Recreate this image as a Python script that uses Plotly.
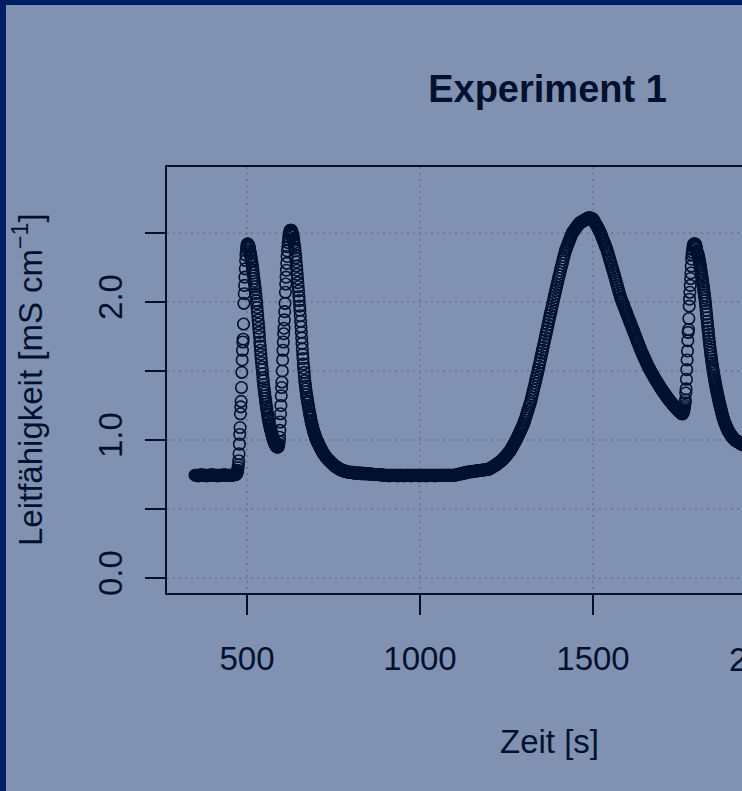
import numpy as np
import plotly.graph_objects as go

# ---------------- data ----------------
# conductivity readings [mS/cm]; each block: start time [s], sampling step [s], readings
basis1_start, basis1_step = 350, 3
basis1 = [0.745, 0.745, 0.745, 0.74, 0.745, 0.745, 0.75, 0.745, 0.745, 0.745,
          0.745, 0.74, 0.745, 0.745, 0.745, 0.745, 0.75, 0.745, 0.745, 0.745,
          0.745, 0.745, 0.74, 0.745, 0.745, 0.745, 0.745, 0.745, 0.75, 0.745,
          0.745, 0.745, 0.745, 0.745, 0.745, 0.745, 0.745, 0.745, 0.75, 0.75]

peak1_rise_start, peak1_rise_step = 468, 1
peak1_rise = [0.75, 0.75, 0.76, 0.76, 0.77, 0.78, 0.80, 0.82, 0.85, 0.90,
              0.97, 1.04, 1.09, 1.19, 1.24, 1.28, 1.38, 1.49, 1.58, 1.65,
              1.71, 1.73, 1.84, 1.99, 2.06, 2.12, 2.18, 2.24, 2.30, 2.34,
              2.37, 2.39, 2.41, 2.42, 2.42, 2.42, 2.41, 2.41, 2.40]

peak1_fall_start, peak1_fall_step = 507, 1
peak1_fall = [2.39, 2.37, 2.36, 2.35, 2.33, 2.32, 2.30, 2.29, 2.27, 2.25,
              2.23, 2.21, 2.19, 2.17, 2.15, 2.13, 2.11, 2.09, 2.06, 2.04,
              2.01, 1.99, 1.96, 1.93, 1.90, 1.87, 1.84, 1.81, 1.78, 1.75,
              1.71, 1.68, 1.65, 1.62, 1.59, 1.56, 1.53, 1.51, 1.48, 1.45,
              1.43, 1.40, 1.38, 1.36, 1.34, 1.32, 1.30, 1.28, 1.26, 1.24,
              1.23, 1.21, 1.19, 1.18, 1.16, 1.15, 1.14, 1.12, 1.11, 1.10,
              1.09, 1.08, 1.07, 1.06, 1.05, 1.04, 1.03, 1.02, 1.01, 1.00,
              0.995, 0.99, 0.98, 0.98, 0.97, 0.97, 0.96, 0.96, 0.955, 0.95,
              0.95, 0.95]

peak2_rise_start, peak2_rise_step = 589, 1
peak2_rise = [0.95, 0.95, 0.96, 0.97, 0.99, 1.02, 1.07, 1.13, 1.19, 1.25,
              1.32, 1.38, 1.42, 1.50, 1.58, 1.65, 1.71, 1.77, 1.81, 1.87,
              1.93, 1.99, 2.07, 2.13, 2.18, 2.23, 2.28, 2.33, 2.37, 2.40,
              2.43, 2.45, 2.47, 2.49, 2.50, 2.51, 2.52, 2.52, 2.52, 2.52,
              2.51, 2.50]

peak2_fall_start, peak2_fall_step = 631, 1
peak2_fall = [2.50, 2.49, 2.48, 2.46, 2.45, 2.43, 2.41, 2.39, 2.37, 2.34,
              2.32, 2.29, 2.26, 2.23, 2.20, 2.17, 2.14, 2.11, 2.08, 2.04,
              2.01, 1.97, 1.94, 1.90, 1.86, 1.82, 1.78, 1.74, 1.70, 1.66,
              1.62, 1.59, 1.55, 1.52, 1.49, 1.46, 1.43, 1.41, 1.39, 1.37,
              1.35, 1.33, 1.31, 1.30, 1.28, 1.27, 1.25, 1.24, 1.22, 1.21,
              1.19, 1.18, 1.17, 1.16, 1.14, 1.13, 1.12, 1.11, 1.10, 1.09,
              1.08, 1.07, 1.06, 1.05, 1.045, 1.04, 1.03, 1.02, 1.015, 1.01,
              1.00, 0.995, 0.99, 0.985, 0.98, 0.975, 0.97, 0.965, 0.96, 0.955,
              0.95, 0.945, 0.94, 0.935, 0.93, 0.925, 0.92, 0.915, 0.91, 0.905]

tail_start, tail_step = 722, 2
tail = [0.90, 0.89, 0.885, 0.88, 0.87, 0.865, 0.86, 0.855, 0.85, 0.845,
        0.84, 0.835, 0.83, 0.825, 0.82, 0.815, 0.81, 0.81, 0.805, 0.80,
        0.80, 0.795, 0.79, 0.79, 0.785, 0.785, 0.78, 0.78, 0.78, 0.775,
        0.775, 0.775, 0.77, 0.77, 0.77, 0.77, 0.765, 0.765, 0.765, 0.765]

basis2_start, basis2_step = 803, 3
basis2 = [0.765, 0.765, 0.76, 0.76, 0.76, 0.76, 0.76, 0.76, 0.76, 0.755,
          0.76, 0.755, 0.755, 0.755, 0.755, 0.755,
          0.755, 0.755, 0.75, 0.755, 0.75, 0.75, 0.75, 0.75, 0.75, 0.75,
          0.75, 0.75, 0.745, 0.75, 0.745, 0.745, 0.745,
          0.745, 0.745, 0.745, 0.74, 0.745, 0.745, 0.745, 0.745, 0.745, 0.745,
          0.745, 0.74, 0.745, 0.745, 0.745, 0.745, 0.745, 0.74, 0.745, 0.745,
          0.745, 0.745, 0.745, 0.745, 0.74, 0.745, 0.745, 0.745, 0.745, 0.745,
          0.745, 0.745, 0.74, 0.745, 0.745, 0.745, 0.745, 0.745, 0.745, 0.74,
          0.745, 0.745, 0.745, 0.745, 0.745, 0.745, 0.745, 0.74, 0.745, 0.745,
          0.745, 0.745, 0.745, 0.745, 0.745, 0.745, 0.745, 0.745, 0.745, 0.745,
          0.745, 0.745, 0.745, 0.745, 0.745, 0.745, 0.745,
          0.745, 0.75, 0.75, 0.75, 0.755, 0.755, 0.755, 0.76, 0.76, 0.76,
          0.765, 0.765, 0.765, 0.77, 0.77, 0.77,
          0.77, 0.772, 0.774, 0.775, 0.776, 0.777, 0.778, 0.779, 0.78, 0.781,
          0.782, 0.783, 0.784, 0.785, 0.786, 0.788, 0.789]

peak3_start, peak3_step = 1200, 2
peak3 = [0.790, 0.793, 0.796, 0.799, 0.802, 0.805, 0.808, 0.811, 0.814, 0.817,
         0.820, 0.824, 0.828, 0.832, 0.836, 0.840, 0.844, 0.848, 0.852, 0.856,
         0.860, 0.866, 0.872, 0.878, 0.884, 0.890, 0.896, 0.902, 0.908, 0.914,
         0.920, 0.929, 0.938, 0.947, 0.956, 0.965, 0.974, 0.983, 0.992, 1.001,
         1.010, 1.021, 1.032, 1.043, 1.054, 1.065, 1.076, 1.087, 1.098, 1.109,
         1.120, 1.136, 1.152, 1.168, 1.184, 1.200, 1.216, 1.232, 1.248, 1.264,
         1.280, 1.301, 1.322, 1.343, 1.364, 1.385, 1.406, 1.427, 1.448, 1.469,
         1.490, 1.513, 1.536, 1.559, 1.582, 1.605, 1.628, 1.651, 1.674, 1.697,
         1.720, 1.743, 1.766, 1.789, 1.812, 1.835, 1.858, 1.881, 1.904, 1.927,
         1.950, 1.972, 1.994, 2.016, 2.038, 2.060, 2.082, 2.104, 2.126, 2.148,
         2.170, 2.190, 2.210, 2.230, 2.250, 2.270, 2.290, 2.310, 2.330, 2.350,
         2.370, 2.383, 2.396, 2.409, 2.422, 2.435, 2.448, 2.461, 2.474, 2.487,
         2.500, 2.507, 2.514, 2.521, 2.528, 2.535, 2.542, 2.549, 2.556, 2.563,
         2.570, 2.573, 2.576, 2.579, 2.582, 2.585, 2.588, 2.591, 2.594, 2.597,
         2.600, 2.603, 2.606, 2.608, 2.610, 2.610, 2.609, 2.607, 2.605, 2.602,
         2.600, 2.592, 2.583, 2.574, 2.565, 2.556, 2.547, 2.538, 2.529, 2.519,
         2.510, 2.497, 2.484, 2.471, 2.458, 2.445, 2.432, 2.419, 2.406, 2.393,
         2.380, 2.363, 2.346, 2.329, 2.312, 2.295, 2.278, 2.261, 2.244, 2.227,
         2.210, 2.192, 2.174, 2.156, 2.138, 2.120, 2.102, 2.084, 2.066, 2.048,
         2.030, 2.017, 2.004, 1.991, 1.978, 1.965, 1.952, 1.939, 1.926, 1.913,
         1.900, 1.887, 1.874, 1.861, 1.848, 1.835, 1.822, 1.809, 1.796, 1.783,
         1.770, 1.757, 1.744, 1.731, 1.718, 1.705, 1.692, 1.679, 1.666, 1.653,
         1.640, 1.629, 1.618, 1.607, 1.596, 1.585, 1.574, 1.563, 1.552, 1.541,
         1.530, 1.521, 1.512, 1.503, 1.494, 1.485, 1.476, 1.467, 1.458, 1.449,
         1.440, 1.432, 1.424, 1.416, 1.408, 1.400, 1.392, 1.384, 1.376, 1.368,
         1.360, 1.353, 1.346, 1.339, 1.332, 1.325, 1.318, 1.311, 1.304, 1.297,
         1.290, 1.284, 1.278, 1.272, 1.266, 1.260, 1.254, 1.248, 1.242, 1.236,
         1.230, 1.225, 1.220, 1.215, 1.210, 1.205, 1.200, 1.196, 1.192]

peak4_rise_start, peak4_rise_step = 1757, 1
peak4_rise = [1.19, 1.19, 1.19, 1.20, 1.20, 1.21, 1.22, 1.235, 1.25, 1.27,
              1.29, 1.34, 1.37, 1.44, 1.51, 1.58, 1.645, 1.72, 1.78, 1.80,
              1.88, 1.97, 2.02, 2.07, 2.12, 2.17, 2.21, 2.26, 2.31, 2.34,
              2.36, 2.38, 2.40, 2.41, 2.42, 2.42, 2.42, 2.42, 2.42, 2.42,
              2.41, 2.40, 2.39, 2.37]

peak4_fall_start, peak4_fall_step = 1801, 1
peak4_fall = [2.362, 2.354, 2.346, 2.338, 2.33, 2.316, 2.302, 2.288, 2.274, 2.26,
              2.244, 2.228, 2.212, 2.196, 2.18, 2.162, 2.144, 2.126, 2.108, 2.09,
              2.07, 2.05, 2.03, 2.01, 1.99, 1.964, 1.938, 1.912, 1.886, 1.86,
              1.836, 1.812, 1.788, 1.764, 1.74, 1.718, 1.696, 1.674, 1.652, 1.63,
              1.612, 1.594, 1.576, 1.558, 1.54, 1.524, 1.508, 1.492, 1.476, 1.46,
              1.446, 1.432, 1.418, 1.404, 1.39, 1.378, 1.366, 1.354, 1.342, 1.33,
              1.318, 1.306, 1.294, 1.282, 1.27, 1.26, 1.25, 1.24, 1.23, 1.22,
              1.21, 1.20, 1.19, 1.18, 1.17, 1.162, 1.154, 1.146, 1.138, 1.13,
              1.124, 1.118, 1.112, 1.106, 1.10, 1.094, 1.088, 1.082, 1.076, 1.07,
              1.066, 1.062, 1.058, 1.054, 1.05, 1.046, 1.042, 1.038, 1.034, 1.03,
              1.027, 1.024, 1.021, 1.018, 1.015, 1.012, 1.009, 1.006, 1.003, 1.00,
              0.999, 0.997, 0.996, 0.994, 0.993, 0.991, 0.99, 0.988, 0.987, 0.985,
              0.984, 0.982, 0.981, 0.979, 0.978, 0.976, 0.975, 0.973, 0.972, 0.97,
              0.969, 0.968, 0.967, 0.966, 0.965, 0.964, 0.963, 0.962, 0.961, 0.96]

x_tickvals = [500, 1000, 1500, 2000]
x_ticktext = ["500", "1000", "1500", "2000"]
y_tickvals = [0.0, 1.0, 2.0]
y_ticktext = ["0.0", "1.0", "2.0"]
y_minor_tickvals = [0.5, 1.5, 2.5]

title_text = "Experiment 1"
x_title = "Zeit [s]"
y_title = "Leitfähigkeit [mS cm<sup>\u22121</sup>]"

# ---------------- assemble series ----------------
blocks = [
    (basis1_start, basis1_step, basis1),
    (peak1_rise_start, peak1_rise_step, peak1_rise),
    (peak1_fall_start, peak1_fall_step, peak1_fall),
    (peak2_rise_start, peak2_rise_step, peak2_rise),
    (peak2_fall_start, peak2_fall_step, peak2_fall),
    (tail_start, tail_step, tail),
    (basis2_start, basis2_step, basis2),
    (peak3_start, peak3_step, peak3),
    (peak4_rise_start, peak4_rise_step, peak4_rise),
    (peak4_fall_start, peak4_fall_step, peak4_fall),
]
zeit = np.concatenate([s + st * np.arange(len(v)) for s, st, v in blocks])
leitf = np.concatenate([np.asarray(v, dtype=float) for _, _, v in blocks])

# ---------------- styling ----------------
W, H = 742, 791
L, T, B, R = 167, 167, 198, 0
BG = "#8191B1"
FG = "#00112F"
FRAME = "#001F63"
GRID = "#6C7B9D"
FONT = "Liberation Sans, Arial, Helvetica, sans-serif"

plot_w = W - L - R
plot_h = H - T - B

def px_x(p):
    return (p - L) / plot_w

def px_y(p):
    return (H - B - p) / plot_h

fig = go.Figure()
fig.add_trace(go.Scatter(
    x=zeit, y=leitf, mode="markers",
    marker=dict(symbol="circle-open", size=11.5, color=FG, line=dict(width=1.6, color=FG)),
    hoverinfo="skip", showlegend=False,
))

axis_common = dict(
    showline=True, linecolor=FG, linewidth=2,
    ticks="outside", ticklen=20, tickwidth=2, tickcolor=FG,
    showgrid=True, gridcolor=GRID, gridwidth=1.5, griddash="2px,4px",
    zeroline=False,
    tickfont=dict(family=FONT, size=33, color=FG),
)

fig.update_xaxes(
    range=[268.8, 1930.6], tickmode="array", tickvals=x_tickvals, ticktext=x_ticktext,
    mirror=True, ticklabelstandoff=15, **axis_common,
)
fig.update_yaxes(
    range=[-0.1087, 2.978], tickmode="array", tickvals=y_tickvals, ticktext=y_ticktext,
    mirror=False, tickangle=-90, ticklabelstandoff=10,
    minor=dict(tickmode="array", tickvals=y_minor_tickvals, ticks="outside", ticklen=20,
               tickwidth=2, tickcolor=FG, showgrid=True, gridcolor=GRID, gridwidth=1.5,
               griddash="2px,4px"),
    **axis_common,
)

annotations = [
    dict(text=x_title, xref="paper", yref="paper", x=px_x(549), y=px_y(741),
         xanchor="center", yanchor="middle", showarrow=False,
         font=dict(family=FONT, size=33, color=FG)),
    dict(text=y_title, xref="paper", yref="paper", x=px_x(28), y=px_y(380),
         xanchor="center", yanchor="middle", textangle=-90, showarrow=False,
         font=dict(family=FONT, size=33, color=FG)),
    # label of the 2000 tick, which lies just past the visible edge
    dict(text=x_ticktext[3], xref="paper", yref="paper", x=px_x(766), y=px_y(659),
         xanchor="center", yanchor="middle", showarrow=False,
         font=dict(family=FONT, size=33, color=FG)),
]

shapes = [
    dict(type="rect", xref="paper", yref="paper", x0=px_x(-10), x1=px_x(6),
         y0=px_y(H + 10), y1=px_y(-10), fillcolor=FRAME, line=dict(width=0), layer="above"),
    dict(type="rect", xref="paper", yref="paper", x0=px_x(-10), x1=px_x(W + 10),
         y0=px_y(5), y1=px_y(-10), fillcolor=FRAME, line=dict(width=0), layer="above"),
]

fig.update_layout(
    width=W, height=H, autosize=False,
    margin=dict(l=L, r=R, t=T, b=B, pad=0),
    paper_bgcolor=BG, plot_bgcolor=BG,
    title=dict(text=title_text, x=547.5 / W, xref="container", xanchor="center",
               y=1 - 89 / H, yref="container", yanchor="middle",
               font=dict(family=FONT, size=38, color=FG, weight="bold")),
    annotations=annotations, shapes=shapes,
    showlegend=False,
)

fig.write_html("out.html",
               config={"displayModeBar": False},
               post_script="document.body.style.margin='0';document.body.style.overflow='hidden';")
